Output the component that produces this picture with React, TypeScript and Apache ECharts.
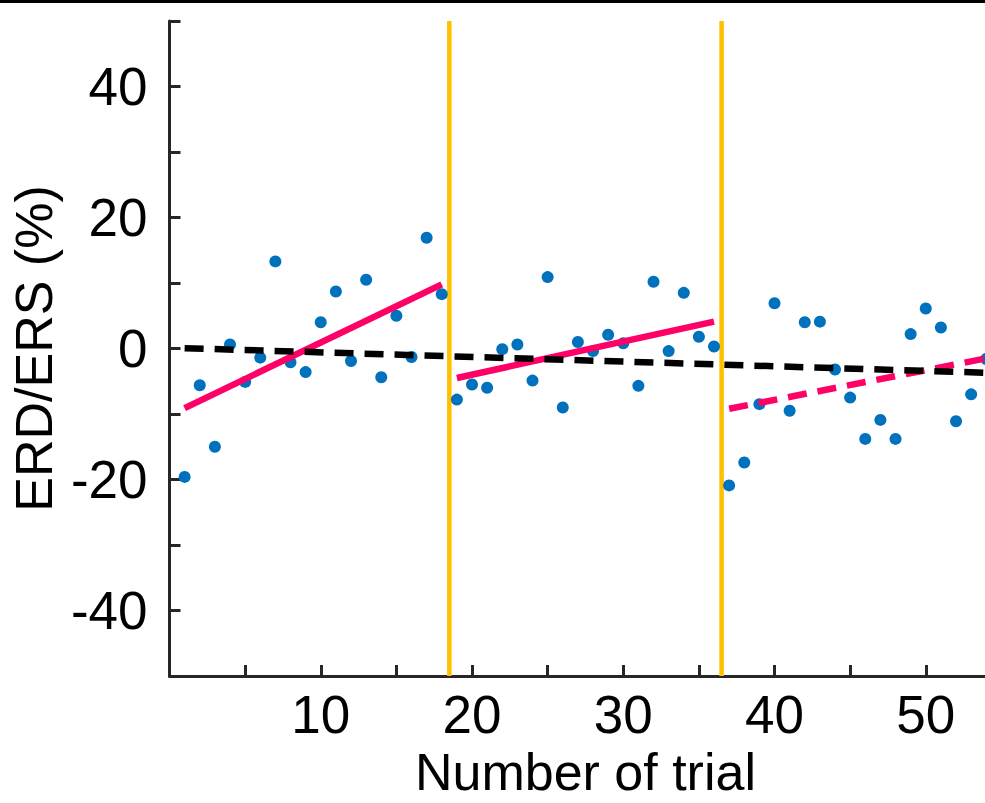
import React, { useEffect, useRef } from "react";
import * as echarts from "echarts";

// ERD/ERS (%) per trial, trials numbered from 1
const erdErs = [
  -19.6, -5.6, -15.0, 0.6, -5.1, -1.4, 13.3, -2.1, -3.6, 4.0,
  8.7, -1.9, 10.5, -4.4, 5.0, -1.3, 16.9, 8.3, -7.8, -5.5,
  -6.0, -0.1, 0.6, -4.9, 10.9, -9.0, 1.0, -0.4, 2.1, 0.8,
  -5.7, 10.2, -0.4, 8.5, 1.8, 0.3, -20.9, -17.4, -8.5, 6.9,
  -9.5, 4.0, 4.1, -3.2, -7.5, -13.8, -10.9, -13.8, 2.2, 6.1,
  3.2, -11.1, -7.0, -1.6,
];

// session boundaries (between trials)
const boundaries = [18.5, 36.5];

// linear fits: per phase and over all trials
const fitPhase1 = [[1, -9.1], [18, 9.8]];
const fitPhase2 = [[19, -4.5], [36, 4.1]];
const fitPhase3 = [[37, -9.2], [54, -1.5]];
const fitOverall = [[1, 0.05], [54, -3.7]];

const FONT = "'Liberation Sans', Arial, Helvetica, sans-serif";
const AXIS_COLOR = "#262626";

export default function App() {
  const ref = useRef<HTMLDivElement>(null);

  useEffect(() => {
    if (!ref.current) return;
    const chart = echarts.init(ref.current, undefined, { renderer: "svg" });

    const points = erdErs.map((v, i) => [i + 1, v]);

    const boundarySeries = boundaries.map((b) => ({
      type: "line",
      data: [[b, -50], [b, 50]],
      symbol: "none",
      lineStyle: { color: "#FFC000", width: 4.5 },
      z: 1,
      silent: true,
    }));

    const fitSeries = (data: number[][], color: string, dashed: boolean, z: number) => ({
      type: "line",
      data,
      symbol: "none",
      lineStyle: {
        color,
        width: 6.5,
        type: dashed ? [19, 11] : "solid",
        cap: "butt",
      },
      z,
      silent: true,
    });

    chart.setOption({
      animation: false,
      backgroundColor: "#ffffff",
      grid: { left: 169.4, top: 21, right: 8.6, bottom: 119.3 },
      xAxis: {
        type: "value",
        min: 0,
        max: 55,
        interval: 5,
        name: "Number of trial",
        nameLocation: "middle",
        nameGap: 70,
        nameTextStyle: { fontFamily: FONT, fontSize: 52, color: "#000" },
        axisLine: { show: true, onZero: false, lineStyle: { color: AXIS_COLOR, width: 3 } },
        axisTick: { show: true, inside: true, length: 11, lineStyle: { color: AXIS_COLOR, width: 3 } },
        axisLabel: {
          margin: 12,
          fontFamily: FONT,
          fontSize: 53,
          color: "#000",
          showMinLabel: false,
          formatter: (v: number) => (v % 10 === 0 && v !== 0 ? String(v) : ""),
        },
        splitLine: { show: false },
      },
      yAxis: {
        type: "value",
        min: -50,
        max: 50,
        interval: 10,
        name: "ERD/ERS (%)",
        nameLocation: "middle",
        nameGap: 100,
        nameRotate: 90,
        nameTextStyle: { fontFamily: FONT, fontSize: 52, color: "#000" },
        axisLine: { show: true, onZero: false, lineStyle: { color: AXIS_COLOR, width: 3 } },
        axisTick: { show: true, inside: true, length: 11, lineStyle: { color: AXIS_COLOR, width: 3 } },
        axisLabel: {
          margin: 22,
          fontFamily: FONT,
          fontSize: 53,
          color: "#000",
          formatter: (v: number) => (v % 20 === 0 ? String(v) : ""),
        },
        splitLine: { show: false },
      },
      graphic: [
        {
          type: "rect",
          left: 0,
          top: 0,
          shape: { x: 0, y: 0, width: 1010, height: 3 },
          style: { fill: "#000" },
          z: 100,
        },
      ],
      series: [
        ...boundarySeries,
        {
          type: "scatter",
          data: points,
          symbol: "circle",
          symbolSize: 12,
          itemStyle: { color: "#0072BD", opacity: 1 },
          z: 2,
        },
        fitSeries(fitPhase1, "#FF0066", false, 3),
        fitSeries(fitPhase2, "#FF0066", false, 3),
        fitSeries(fitPhase3, "#FF0066", true, 3),
        fitSeries(fitOverall, "#000000", true, 4),
      ],
    });

    return () => chart.dispose();
  }, []);

  return (
    <div
      style={{
        position: "fixed",
        left: 0,
        top: 0,
        width: 985,
        height: 803,
        overflow: "hidden",
        background: "#fff",
      }}
    >
      <div ref={ref} style={{ width: 1010, height: 803 }} />
    </div>
  );
}
